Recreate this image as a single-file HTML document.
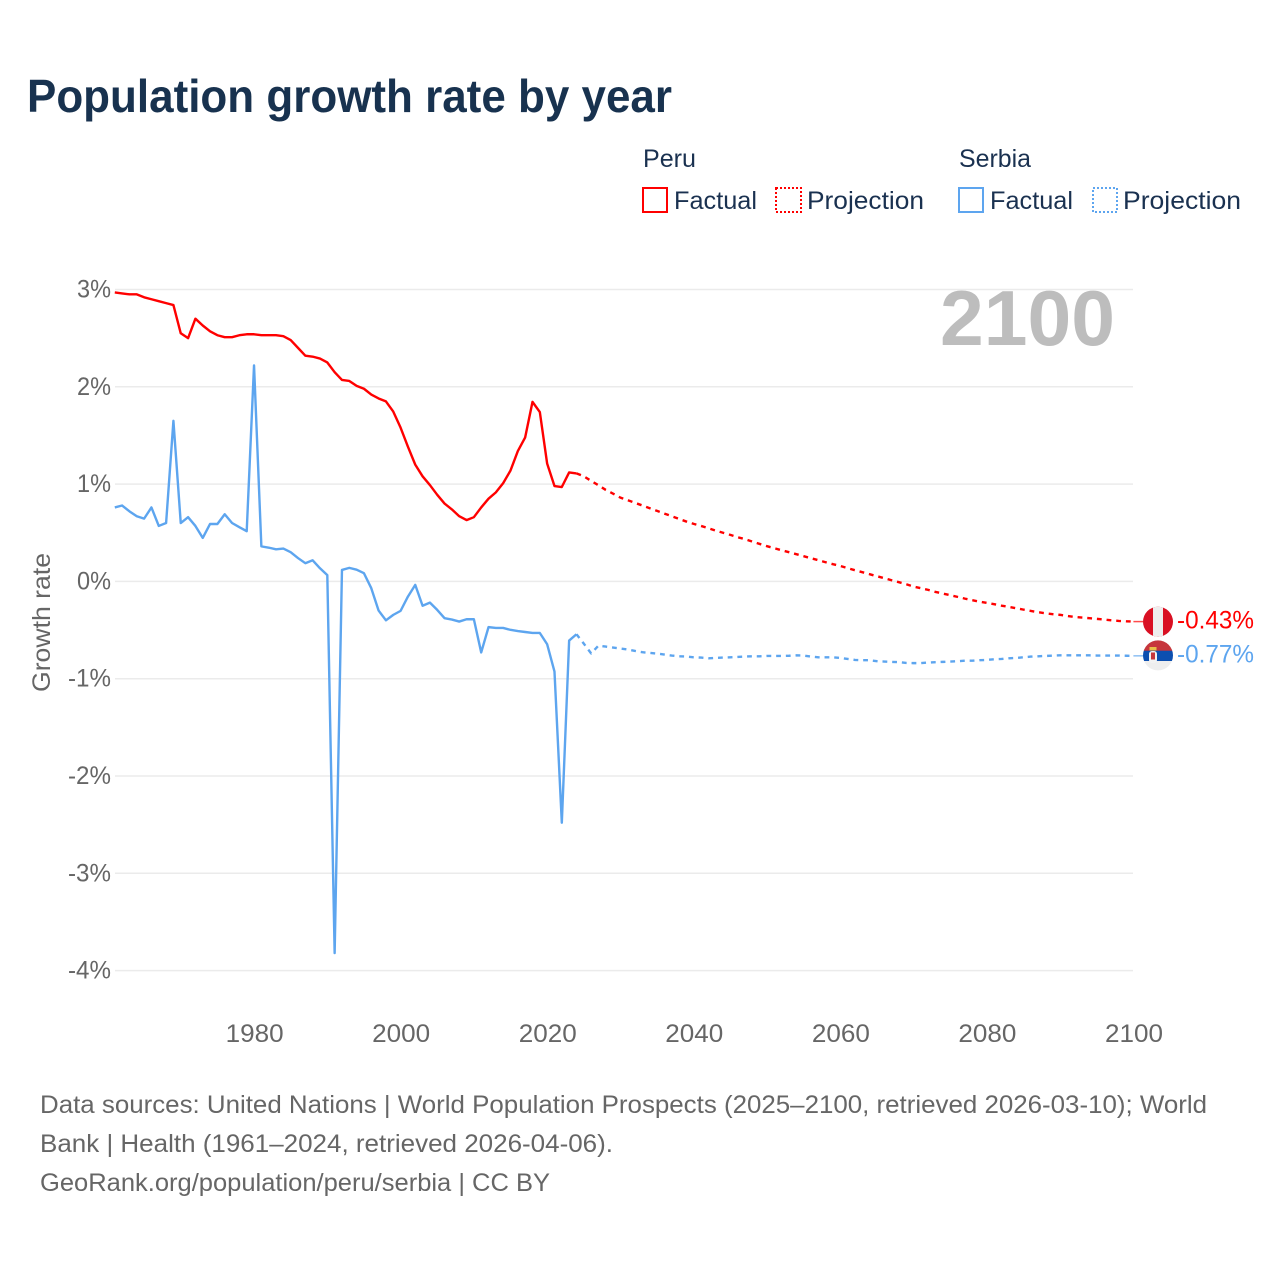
<!DOCTYPE html>
<html lang="en">
<head>
<meta charset="utf-8">
<title>Population growth rate by year</title>
<style>
html,body{margin:0;padding:0;background:#fff;width:1280px;height:1280px;overflow:hidden}
svg{display:block;font-family:"Liberation Sans",sans-serif}
.legend{fill:#1a3150;font-size:25px}
.foot{fill:#666;font-size:25px}
.tick{fill:#666;font-size:25px}
</style>
</head>
<body>
<svg id="chart" width="1280" height="1280" viewBox="0 0 1280 1280" xmlns="http://www.w3.org/2000/svg">
  <rect width="1280" height="1280" fill="#fff"/>
  <text x="27" y="112" font-size="46" font-weight="700" fill="#18324f" textLength="645" lengthAdjust="spacingAndGlyphs">Population growth rate by year</text>

  <g>
    <text class="legend" x="643" y="167" textLength="53" lengthAdjust="spacingAndGlyphs">Peru</text>
    <text class="legend" x="959" y="167" textLength="72" lengthAdjust="spacingAndGlyphs">Serbia</text>
    <rect x="643" y="188" width="24" height="24" fill="none" stroke="#ff0000" stroke-width="2"/>
    <text class="legend" x="674" y="209" textLength="83" lengthAdjust="spacingAndGlyphs">Factual</text>
    <rect x="776" y="188" width="25" height="24" fill="none" stroke="#ff0000" stroke-width="2" stroke-dasharray="2 2"/>
    <text class="legend" x="807" y="209" textLength="117" lengthAdjust="spacingAndGlyphs">Projection</text>
    <rect x="959" y="188" width="24" height="24" fill="none" stroke="#5da5ef" stroke-width="2"/>
    <text class="legend" x="990" y="209" textLength="83" lengthAdjust="spacingAndGlyphs">Factual</text>
    <rect x="1093" y="188" width="24" height="24" fill="none" stroke="#5da5ef" stroke-width="2" stroke-dasharray="2 2"/>
    <text class="legend" x="1123" y="209" textLength="118" lengthAdjust="spacingAndGlyphs">Projection</text>
  </g>

  <g id="grid"></g>
  <g id="yticks"></g>
  <g id="xticks"></g>

  <text x="940" y="345" font-size="78" font-weight="700" fill="#bdbdbd" textLength="175" lengthAdjust="spacingAndGlyphs" id="yearlabel">2100</text>

  <text transform="translate(50 692) rotate(-90)" font-size="25" fill="#666" textLength="139" lengthAdjust="spacingAndGlyphs">Growth rate</text>

  <g id="series"></g>

  <defs>
    <clipPath id="clip-peru"><circle cx="1158" cy="621.7" r="15"/></clipPath>
    <clipPath id="clip-serbia"><circle cx="1158" cy="655.4" r="15"/></clipPath>
  </defs>
  <g clip-path="url(#clip-peru)">
    <rect x="1143" y="606" width="30" height="32" fill="#d91023"/>
    <rect x="1153" y="606" width="10" height="32" fill="#eeeeee"/>
  </g>
  <g clip-path="url(#clip-serbia)">
    <rect x="1143" y="640" width="30" height="11" fill="#c6363c"/>
    <rect x="1143" y="650.7" width="30" height="10.3" fill="#0c4fb0"/>
    <rect x="1143" y="661" width="30" height="10" fill="#eeeeee"/>
    <rect x="1149.5" y="647" width="7" height="3.5" fill="#e8c048"/>
    <rect x="1149" y="651" width="8" height="12" rx="3" fill="#f2f2f2"/>
    <rect x="1151" y="652.5" width="4" height="7" fill="#c6363c"/>
  </g>

  <g id="endlabels"></g>

  <g>
    <text class="foot" x="40" y="1113" textLength="1167" lengthAdjust="spacingAndGlyphs">Data sources: United Nations | World Population Prospects (2025–2100, retrieved 2026-03-10); World</text>
    <text class="foot" x="40" y="1152" textLength="573" lengthAdjust="spacingAndGlyphs">Bank | Health (1961–2024, retrieved 2026-04-06).</text>
    <text class="foot" x="40" y="1191" textLength="510" lengthAdjust="spacingAndGlyphs">GeoRank.org/population/peru/serbia | CC BY</text>
  </g>
</svg>
<script>
// Chart data: growth rate in percent
const factualStartYear = 1961;
const projectionStartYear = 2024;
const peruFactual = [2.97,2.96,2.95,2.95,2.92,2.90,2.88,2.86,2.84,2.55,2.50,2.70,2.63,2.57,2.53,2.51,2.51,2.53,2.54,2.54,2.53,2.53,2.53,2.52,2.48,2.40,2.32,2.31,2.29,2.25,2.15,2.07,2.06,2.01,1.98,1.92,1.88,1.85,1.745,1.58,1.385,1.20,1.08,0.99,0.89,0.80,0.74,0.67,0.63,0.66,0.76,0.85,0.915,1.01,1.14,1.34,1.48,1.845,1.74,1.21,0.98,0.97,1.12,1.11];
const serbiaFactual = [0.76,0.78,0.72,0.67,0.645,0.76,0.57,0.60,1.65,0.60,0.66,0.57,0.447,0.59,0.59,0.69,0.60,0.557,0.516,2.22,0.36,0.347,0.33,0.337,0.30,0.24,0.187,0.217,0.135,0.064,-3.82,0.118,0.139,0.12,0.084,-0.07,-0.30,-0.40,-0.344,-0.303,-0.156,-0.036,-0.25,-0.218,-0.293,-0.378,-0.392,-0.413,-0.389,-0.389,-0.73,-0.47,-0.478,-0.478,-0.498,-0.51,-0.52,-0.53,-0.53,-0.646,-0.927,-2.48,-0.608,-0.543];
const peruProjection = [1.11,1.08,1.033,0.988,0.94,0.902,0.861,0.834,0.807,0.78,0.752,0.725,0.697,0.67,0.642,0.615,0.591,0.57,0.547,0.522,0.50,0.478,0.454,0.434,0.409,0.385,0.362,0.341,0.32,0.30,0.28,0.259,0.238,0.218,0.197,0.177,0.159,0.136,0.115,0.095,0.074,0.053,0.033,0.012,-0.008,-0.029,-0.053,-0.07,-0.087,-0.108,-0.125,-0.142,-0.159,-0.177,-0.193,-0.208,-0.221,-0.234,-0.249,-0.262,-0.276,-0.29,-0.303,-0.317,-0.327,-0.337,-0.344,-0.355,-0.365,-0.372,-0.378,-0.385,-0.392,-0.40,-0.406,-0.41,-0.413];
const serbiaProjection = [-0.543,-0.64,-0.74,-0.66,-0.67,-0.68,-0.69,-0.70,-0.715,-0.728,-0.735,-0.742,-0.752,-0.762,-0.77,-0.772,-0.78,-0.783,-0.79,-0.786,-0.783,-0.78,-0.776,-0.772,-0.77,-0.77,-0.766,-0.766,-0.766,-0.764,-0.76,-0.762,-0.772,-0.78,-0.78,-0.78,-0.786,-0.797,-0.807,-0.81,-0.81,-0.82,-0.824,-0.827,-0.83,-0.838,-0.84,-0.84,-0.834,-0.83,-0.827,-0.824,-0.82,-0.815,-0.815,-0.81,-0.807,-0.80,-0.797,-0.79,-0.787,-0.78,-0.773,-0.77,-0.766,-0.763,-0.76,-0.76,-0.76,-0.76,-0.76,-0.762,-0.762,-0.762,-0.762,-0.764,-0.765];
const yTickValues = [3,2,1,0,-1,-2,-3,-4];
const yTickLabels = ["3%","2%","1%","0%","-1%","-2%","-3%","-4%"];
const xTickYears = [1980,2000,2020,2040,2060,2080,2100];
const endLabels = ["-0.43%","-0.77%"];

const NS = "http://www.w3.org/2000/svg";
const RED = "#ff0000";
const BLUE = "#5da5ef";
function xScale(year){ return 114.8 + (year - 1961) * (1133.4 - 114.8) / (2100 - 1961); }
function yScale(v){ return 581.4 - v * 97.3; }
function pathFor(values, startYear){
  return values.map(function(v, i){
    return (i ? "L" : "M") + xScale(startYear + i).toFixed(2) + " " + yScale(v).toFixed(2);
  }).join(" ");
}

const grid = document.getElementById("grid");
const yticks = document.getElementById("yticks");
yTickValues.forEach(function(v, i){
  const line = document.createElementNS(NS, "line");
  
  
  line.setAttribute("x1", 115);
  line.setAttribute("x2", 1133);
  line.setAttribute("y1", yScale(v));
  line.setAttribute("y2", yScale(v));
  line.setAttribute("stroke", "#ebebeb");
  line.setAttribute("stroke-width", "1.5");
  grid.appendChild(line);
  const t = document.createElementNS(NS, "text");
  
  
  t.setAttribute("class", "tick");
  const w = v < 0 ? 43 : 34;
  t.setAttribute("x", 111 - w);
  t.setAttribute("y", yScale(v) + 8);
  t.setAttribute("textLength", w);
  t.setAttribute("lengthAdjust", "spacingAndGlyphs");
  t.textContent = yTickLabels[i];
  yticks.appendChild(t);
});

const xticks = document.getElementById("xticks");
xTickYears.forEach(function(year){
  const t = document.createElementNS(NS, "text");
  
  
  t.setAttribute("class", "tick");
  t.setAttribute("x", xScale(year) + 0.6 - 29);
  t.setAttribute("y", 1042);
  t.setAttribute("textLength", 58);
  t.setAttribute("lengthAdjust", "spacingAndGlyphs");
  t.textContent = String(year);
  xticks.appendChild(t);
});

const series = document.getElementById("series");
function addLine(name, values, startYear, color, dash){
  const p = document.createElementNS(NS, "path");
  
  
  p.setAttribute("d", pathFor(values, startYear));
  p.setAttribute("fill", "none");
  p.setAttribute("stroke", color);
  p.setAttribute("stroke-width", "2.4");
  p.setAttribute("stroke-linejoin", "round");
  if (dash) p.setAttribute("stroke-dasharray", dash);
  series.appendChild(p);
}
addLine("serbia-factual-line", serbiaFactual, factualStartYear, BLUE);
addLine("serbia-projection-line", serbiaProjection, projectionStartYear, BLUE, "4.8 4.9");
addLine("peru-factual-line", peruFactual, factualStartYear, RED);
addLine("peru-projection-line", peruProjection, projectionStartYear, RED, "4.8 4.9");

function addConnector(name, value, color){
  const l = document.createElementNS(NS, "line");
  
  
  l.setAttribute("x1", xScale(2100));
  l.setAttribute("x2", 1143);
  l.setAttribute("y1", yScale(value));
  l.setAttribute("y2", yScale(value));
  l.setAttribute("stroke", color);
  l.setAttribute("stroke-width", "1.5");
  l.setAttribute("opacity", "0.7");
  series.appendChild(l);
}
addConnector("peru-end-connector", peruProjection[peruProjection.length - 1], RED);
addConnector("serbia-end-connector", serbiaProjection[serbiaProjection.length - 1], BLUE);

const endGroup = document.getElementById("endlabels");
function addEndLabel(name, label, value, color){
  const t = document.createElementNS(NS, "text");
  
  
  t.setAttribute("x", 1177);
  t.setAttribute("y", yScale(value) + 6.8);
  t.setAttribute("font-size", "25");
  t.setAttribute("fill", color);
  t.setAttribute("textLength", 77);
  t.setAttribute("lengthAdjust", "spacingAndGlyphs");
  t.textContent = label;
  endGroup.appendChild(t);
}
addEndLabel("peru-end-value", endLabels[0], peruProjection[peruProjection.length - 1], RED);
addEndLabel("serbia-end-value", endLabels[1], serbiaProjection[serbiaProjection.length - 1], BLUE);
</script>
</body>
</html>
